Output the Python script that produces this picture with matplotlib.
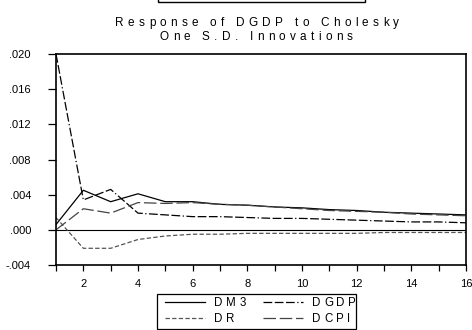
import matplotlib
matplotlib.use("Agg")
import matplotlib.pyplot as plt
from matplotlib.patches import Rectangle
from matplotlib.lines import Line2D
from matplotlib import font_manager
from matplotlib.ft2font import FT2Font

periods = list(range(1, 17))
dm3 = [0.0006, 0.0045, 0.0032, 0.0041, 0.0032, 0.0032, 0.0029, 0.0028,
       0.0026, 0.0025, 0.0023, 0.0022, 0.0020, 0.0019, 0.0018, 0.0017]
dgdp = [0.0200, 0.0034, 0.0046, 0.0019, 0.0017, 0.0015, 0.0015, 0.0014,
        0.0013, 0.0013, 0.0012, 0.0011, 0.0010, 0.0009, 0.0009, 0.0008]
dr = [0.0014, -0.0021, -0.0021, -0.0011, -0.0007, -0.0005, -0.0005, -0.0004,
      -0.0004, -0.0004, -0.0004, -0.0004, -0.0003, -0.0003, -0.0003, -0.0003]
dcpi = [0.0000, 0.0024, 0.0019, 0.0031, 0.0030, 0.0031, 0.0029, 0.0028,
        0.0026, 0.0024, 0.0022, 0.0021, 0.0020, 0.0018, 0.0017, 0.0016]
yticks = [-0.004, 0.000, 0.004, 0.008, 0.012, 0.016, 0.020]
ytick_labels = ["-.004", ".000", ".004", ".008", ".012", ".016", ".020"]
xticks = [2, 4, 6, 8, 10, 12, 14, 16]
series_names = ["DM3", "DGDP", "DR", "DCPI"]
title_lines = ["Response of DGDP to Cholesky", "One S.D. Innovations"]

FAMILY = 'Liberation Sans'
plt.rcParams['font.family'] = [FAMILY, 'DejaVu Sans']

W, H = 472, 330
DPI = 100
fig = plt.figure(figsize=(W / DPI, H / DPI), dpi=DPI)
ax = fig.add_axes([56 / W, 1 - 265 / H, (466 - 56) / W, (265 - 54) / H])

_font = FT2Font(font_manager.findfont(font_manager.FontProperties(family=FAMILY)))


def advances(s, size_pt):
    _font.set_size(size_pt, DPI)
    return [_font.load_char(ord(c)).linearHoriAdvance / 65536.0 for c in s]


def tracked_text(s, x_px, y_px, size_pt, track_px, align='center'):
    adv = advances(s, size_pt)
    total = sum(adv) + track_px * (len(s) - 1)
    x = x_px - total / 2 if align == 'center' else x_px
    for c, a in zip(s, adv):
        if c != ' ':
            fig.text(x / W, 1 - y_px / H, c, ha='left', va='baseline',
                     fontsize=size_pt)
        x += a + track_px


lw = 0.9
styles = {
    "DM3": dict(color="black", linestyle="-"),
    "DGDP": dict(color="black", linestyle=(0, (7, 2, 7, 2, 7, 2, 1, 2))),
    "DR": dict(color="#555555", linestyle=(0, (3.5, 1.8))),
    "DCPI": dict(color="#444444", linestyle=(0, (10, 3))),
}
data = {"DM3": dm3, "DGDP": dgdp, "DR": dr, "DCPI": dcpi}

ax.axhline(0, color="black", lw=0.8)
for name in series_names:
    ax.plot(periods, data[name], lw=lw, **styles[name])

ax.set_xlim(1, 16)
ax.set_ylim(-0.004, 0.020)
ax.set_yticks(yticks)
ax.set_yticklabels(ytick_labels)
ax.set_xticks(xticks)
ax.set_xticklabels([str(t) for t in xticks])
ax.set_xticks(periods, minor=True)
ax.tick_params(axis='both', which='both', direction='out', labelsize=8, width=0.9,
               color='black')
ax.tick_params(axis='y', length=6, pad=12)
ax.tick_params(axis='x', which='both', length=4, pad=6)
for sp in ax.spines.values():
    sp.set_linewidth(1.2)

# title (letter-spaced)
tracked_text(title_lines[0], 257, 25.7, 8.5, 4.3)
tracked_text(title_lines[1], 256, 40.3, 8.5, 4.3)

# cut-off box at top
fig.patches.append(Rectangle((158 / W, 1 - 2 / H), (365 - 158) / W, 10 / H,
                             transform=fig.transFigure, fill=False,
                             edgecolor='black', lw=1.0))

# legend box
fig.patches.append(Rectangle((157 / W, 1 - 329 / H), (356 - 157) / W, (329 - 294) / H,
                             transform=fig.transFigure, fill=False,
                             edgecolor='black', lw=0.9))
leg_pos = {"DM3": (165, 302), "DGDP": (263, 302), "DR": (165, 318), "DCPI": (263, 318)}
for name in series_names:
    x0, y0 = leg_pos[name]
    fig.lines.append(Line2D([x0 / W, (x0 + 40) / W], [1 - y0 / H, 1 - y0 / H],
                            transform=fig.transFigure, lw=lw, **styles[name]))
    tracked_text(name, x0 + 49, y0 + 4, 8.3, 3.6, align='left')

fig.savefig("out.png", dpi=DPI)
